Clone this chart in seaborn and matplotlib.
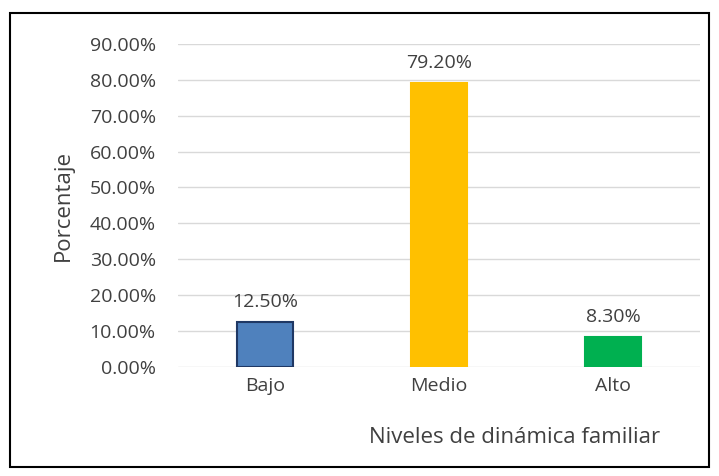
import pandas as pd
import matplotlib.pyplot as plt
import seaborn as sns
from matplotlib.ticker import PercentFormatter
from matplotlib.patches import Rectangle

categorias = ['Bajo', 'Medio', 'Alto']
porcentajes = [12.5, 79.2, 8.3]
colores = ['#4F81BD', '#FFC000', '#00B050']
bordes = ['#1F3864', '#FFC000', '#00B050']

sns.set_style('white')
plt.rcParams['font.family'] = ['Open Sans', 'DejaVu Sans']

df = pd.DataFrame({'nivel': categorias, 'valor': porcentajes})

fig = plt.figure(figsize=(7.19, 4.76), dpi=100)
ax = fig.add_axes([0.2476, 0.229, 0.726, 0.679])
sns.barplot(data=df, x='nivel', y='valor', hue='nivel', palette=colores,
            width=0.32, legend=False, ax=ax, saturation=1)
for bar, ec in zip(ax.patches, bordes):
    bar.set_edgecolor(ec)
    bar.set_linewidth(1.5)

ax.set_ylim(0, 90)
ax.set_yticks(range(0, 91, 10))
ax.yaxis.set_major_formatter(PercentFormatter(decimals=2))
ax.grid(axis='y', color='#D9D9D9', linewidth=1)
ax.set_axisbelow(True)
for s in ax.spines.values():
    s.set_visible(False)
ax.tick_params(axis='both', length=0, labelsize=14, labelcolor='#404040')
ax.tick_params(axis='y', pad=16)
ax.tick_params(axis='x', pad=7)

for bar, v in zip(ax.patches, porcentajes):
    ax.text(bar.get_x() + bar.get_width() / 2, v + 3, f'{v:.2f}%',
            ha='center', va='bottom', fontsize=14, color='#404040')

ax.set_xlabel('Niveles de dinámica familiar', fontsize=16, color='#404040')
ax.xaxis.set_label_coords(0.645, -0.185)
ax.set_ylabel('Porcentaje', fontsize=16, color='#404040')
ax.yaxis.set_label_coords(-0.2, 0.5)

fig.patches.append(Rectangle((10 / 719, 9 / 476), 699 / 719, 454 / 476,
                             transform=fig.transFigure, fill=False,
                             edgecolor='black', linewidth=1.5))

fig.savefig('out.png', dpi=100)
